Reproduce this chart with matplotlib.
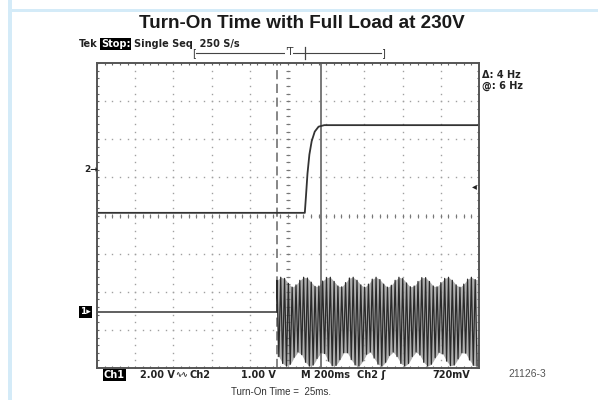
import numpy as np
import matplotlib
matplotlib.use("Agg")
import matplotlib.pyplot as plt

W, H = 598, 400

# ---- data (in screen divisions: x 0..10, y 0..8) ----
ch2_x = [0.0, 5.44, 5.47, 5.51, 5.56, 5.62, 5.70, 5.80, 5.95, 10.0]
ch2_y = [4.07, 4.07, 4.50, 5.10, 5.60, 5.95, 6.20, 6.33, 6.37, 6.37]

ch1_flat_x = [0.0, 4.71]
ch1_flat_y = [1.48, 1.48]

ch1_upper = [2.30, 2.38, 2.35, 2.22, 2.12, 2.18, 2.30, 2.38, 2.36, 2.25,
             2.14, 2.15, 2.28, 2.37, 2.38, 2.27, 2.15, 2.13, 2.24, 2.36,
             2.38, 2.30, 2.18, 2.12, 2.20, 2.33, 2.38, 2.32, 2.20, 2.12,
             2.17, 2.30, 2.38, 2.35, 2.23, 2.13, 2.15, 2.27, 2.37, 2.37,
             2.27, 2.15, 2.13, 2.24, 2.35, 2.38, 2.30, 2.18, 2.12, 2.20,
             2.33, 2.38, 2.32]
ch1_lower = [0.30, 0.12, 0.05, 0.10, 0.28, 0.42, 0.35, 0.15, 0.05, 0.08,
             0.25, 0.40, 0.38, 0.18, 0.06, 0.07, 0.22, 0.40, 0.40, 0.22,
             0.08, 0.05, 0.18, 0.36, 0.42, 0.26, 0.10, 0.05, 0.15, 0.33,
             0.42, 0.30, 0.12, 0.05, 0.12, 0.30, 0.42, 0.34, 0.15, 0.05,
             0.10, 0.27, 0.41, 0.37, 0.18, 0.06, 0.08, 0.24, 0.40, 0.39,
             0.21, 0.07, 0.05]

cursor_dashed = 4.71
cursor_solid = 5.86

fig = plt.figure(figsize=(W / 100, H / 100), dpi=100)
fig.patch.set_facecolor("white")

def fx(px):
    return px / W

def fy(py):
    return 1 - py / H

# light blue frame pieces
blue = "#d4ebf8"
fig.patches.append(plt.Rectangle((fx(8), 0), fx(4), 1, transform=fig.transFigure,
                                 facecolor=blue, edgecolor="none"))
fig.patches.append(plt.Rectangle((fx(8), fy(12)), 1, 3 / H, transform=fig.transFigure,
                                 facecolor=blue, edgecolor="none"))

ax = fig.add_axes([fx(97), fy(368), 382 / W, 305 / H])
ax.set_xlim(0, 10)
ax.set_ylim(0, 8)
ax.set_xticks([])
ax.set_yticks([])
for s in ax.spines.values():
    s.set_color("#555555")
    s.set_linewidth(1.4)

gc = "#a0a0a0"
# dotted grid
fine = np.arange(0, 10.001, 0.2)
fine_y = np.arange(0, 8.001, 0.2)
for j in range(1, 8):
    ax.plot(fine, np.full_like(fine, j), ls="none", marker="s", ms=1.0, color=gc, mew=0)
for i in range(1, 10):
    ax.plot(np.full_like(fine_y, i), fine_y, ls="none", marker="s", ms=1.0, color=gc, mew=0)
# center cross ticks
ax.plot(fine, np.full_like(fine, 4), ls="none", marker="|", ms=3, color="#777777", mew=0.8)
ax.plot(np.full_like(fine_y, 5), fine_y, ls="none", marker="_", ms=3, color="#777777", mew=0.8)
# edge ticks
ax.plot(fine, np.full_like(fine, 8), ls="none", marker="|", ms=3.5, color="#666666", mew=0.8)
ax.plot(fine, np.full_like(fine, 0), ls="none", marker="|", ms=3.5, color="#666666", mew=0.8)
ax.plot(np.full_like(fine_y, 0), fine_y, ls="none", marker="_", ms=3.5, color="#666666", mew=0.8)
ax.plot(np.full_like(fine_y, 10), fine_y, ls="none", marker="_", ms=3.5, color="#666666", mew=0.8)

# cursors
ax.axvline(cursor_dashed, color="#666666", lw=1.1, ls=(0, (6, 3)))
ax.axvline(cursor_solid, color="#555555", lw=1.1)

# ch2 step
ax.plot(ch2_x, ch2_y, color="#333333", lw=1.3)

# ch1 flat + oscillation
ax.plot(ch1_flat_x, ch1_flat_y, color="#444444", lw=1.2)
n = min(len(ch1_upper), len(ch1_lower))
dx = (10 - cursor_dashed) / n
xu = cursor_dashed + np.arange(n) * dx
xl = xu + dx / 2
zx = np.empty(2 * n)
zy = np.empty(2 * n)
zx[0::2], zx[1::2] = xu, xl
zy[0::2], zy[1::2] = ch1_upper[:n], ch1_lower[:n]
ax.fill_between(zx, np.interp(zx, xu, ch1_upper[:n]), np.interp(zx, xl, ch1_lower[:n]),
                color="#b0b0b0", lw=0)
ax.plot(np.r_[ch1_flat_x[-1], zx], np.r_[ch1_flat_y[-1], zy], color="#2a2a2a", lw=0.9)

# ---- texts ----
fig.text(fx(302), fy(24), "Turn-On Time with Full Load at 230V", ha="center", va="center",
         fontsize=13.6, fontweight="bold", family="Liberation Sans", color="#1a1a1a")

tek_kw = dict(fontsize=7, fontweight="bold", family="DejaVu Sans", color="#222222", va="center")
fig.text(fx(79), fy(44), "Tek", ha="left", **tek_kw)
fig.text(fx(101), fy(44), "Stop:", ha="left", fontsize=7, fontweight="bold", family="DejaVu Sans",
         color="white", va="center",
         bbox=dict(facecolor="black", edgecolor="none", pad=0.5))
fig.text(fx(134), fy(44), "Single Seq  250 S/s", ha="left", **tek_kw)

# top bracket
fig.lines.append(plt.Line2D([fx(196), fx(381)], [fy(53), fy(53)], transform=fig.transFigure,
                            color="#444444", lw=0.8))
fig.text(fx(194), fy(53), "[", ha="center", va="center", fontsize=7, color="#333333")
fig.text(fx(383), fy(53), "]", ha="center", va="center", fontsize=7, color="#333333")
fig.text(fx(289), fy(52), "'T", ha="center", va="center", fontsize=7, color="#333333",
         bbox=dict(facecolor="white", edgecolor="none", pad=0.2))
fig.lines.append(plt.Line2D([fx(305), fx(305)], [fy(47), fy(59)], transform=fig.transFigure,
                            color="#444444", lw=0.9))

fig.text(fx(482), fy(75), "\u0394: 4 Hz", ha="left", **tek_kw)
fig.text(fx(482), fy(86), "@: 6 Hz", ha="left", **tek_kw)

fig.text(fx(84), fy(169), "2\u2192", ha="left", va="center", fontsize=6.5, fontweight="bold",
         color="#222222")
fig.text(fx(80), fy(312), "1\u25b8", ha="left", va="center", fontsize=6.5, fontweight="bold",
         color="white", bbox=dict(facecolor="black", edgecolor="none", pad=0.8))
fig.text(fx(474), fy(186), "\u25c2", ha="center", va="center", fontsize=7, color="#222222")

by = fy(375)
fig.text(fx(104), by, "Ch1", ha="left", color="white", fontsize=7, fontweight="bold",
         family="DejaVu Sans", va="center", bbox=dict(facecolor="black", edgecolor="none", pad=0.6))
fig.text(fx(140), by, "2.00 V", ha="left", **tek_kw)
fig.text(fx(175), by, "\u223f\u223f", ha="left", va="center", fontsize=5.5, family="DejaVu Sans",
         fontweight="bold", color="#222222")
fig.text(fx(189), by, "Ch2", ha="left", **tek_kw)
fig.text(fx(241), by, "1.00 V", ha="left", **tek_kw)
fig.text(fx(301), by, "M 200ms", ha="left", **tek_kw)
fig.text(fx(357), by, "Ch2 \u0283", ha="left", **tek_kw)
fig.text(fx(432), by, "720mV", ha="left", **tek_kw)
fig.text(fx(508), fy(374), "21126-3", ha="left", va="center", fontsize=7.5,
         family="Liberation Sans", color="#555555")
fig.text(fx(231), fy(392), "Turn-On Time =  25ms.", ha="left", va="center", fontsize=7,
         family="Liberation Sans", color="#333333")

fig.savefig("out.png", dpi=100, facecolor="white")
